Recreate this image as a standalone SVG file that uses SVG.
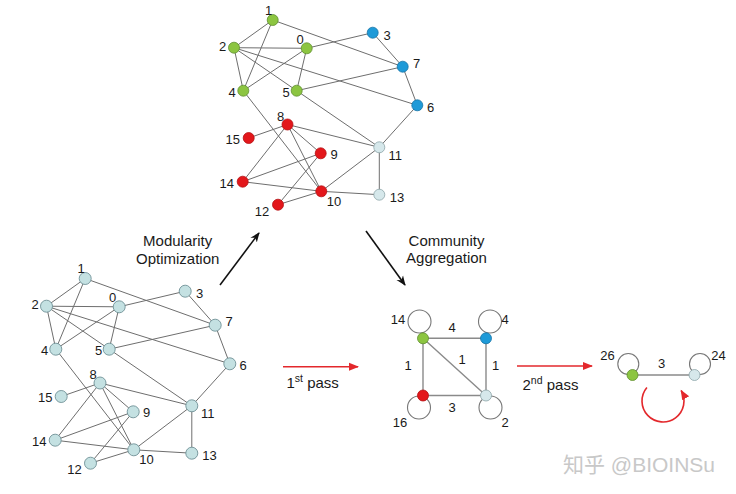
<svg xmlns="http://www.w3.org/2000/svg" width="736" height="494" viewBox="0 0 736 494">
<style>
text{font-family:"Liberation Sans",Arial,sans-serif;fill:#1a1a1a}
.lb{font-size:13px;text-anchor:middle}
.tt{font-size:15px;text-anchor:middle}
.ps{font-size:15px}
.e{stroke:#6e6e6e;stroke-width:1;fill:none}
.e2{stroke:#8a8a8a;stroke-width:1.4;fill:none}
.lp{stroke:#777;stroke-width:1.1;fill:none}
.g{fill:#8cc541;stroke:#5f8f2e;stroke-width:0.8}
.b{fill:#1e9ad8;stroke:#1774a6;stroke-width:0.8}
.r{fill:#e3171b;stroke:#b51013;stroke-width:0.8}
.w{fill:#d6e8eb;stroke:#8da4a8;stroke-width:0.8}
.c{fill:#c4e1e2;stroke:#6f9196;stroke-width:0.9}
.ra{stroke:#e3282c;stroke-width:1.6;fill:none}
.ka{stroke:#111;stroke-width:1.6;fill:none}
.wm{font-size:21px;fill:#c8c8c8;font-family:"Liberation Sans","Noto Sans CJK SC",sans-serif}
</style>
<defs>
<marker id="mr" markerUnits="userSpaceOnUse" markerWidth="12" markerHeight="10" refX="9" refY="5" orient="auto"><path d="M0,1 L10,5 L0,9 z" fill="#e3282c"/></marker>
<marker id="mk" markerUnits="userSpaceOnUse" markerWidth="12" markerHeight="10" refX="9" refY="5" orient="auto"><path d="M0,1 L10,5 L0,9 L3,5 z" fill="#111"/></marker>
</defs>
<rect width="736" height="494" fill="#fff"/>

<g id="connectors">
<!-- top graph -->
<path class="e" d="M272.7,20L234,47.7M272.7,20L243.3,90.7M272.7,20L402.7,66.7M234,47.7L306.7,48.3M234,47.7L243.3,90.7M234,47.7L296.7,90.7M234,47.7L417.3,105.3M306.7,48.3L372.7,32.7M306.7,48.3L243.3,90.7M306.7,48.3L296.7,90.7M372.7,32.7L402.7,66.7M402.7,66.7L296.7,90.7M402.7,66.7L417.3,105.3M243.3,90.7L321.3,191.3M296.7,90.7L379.3,147.3M417.3,105.3L379.3,147.3M287.5,124.5L248.7,138M287.5,124.5L379.3,147.3M287.5,124.5L242.7,181.7M287.5,124.5L320.7,153.3M287.5,124.5L321.3,191.3M320.7,153.3L242.7,181.7M320.7,153.3L278,204.7M242.7,181.7L321.3,191.3M321.3,191.3L278,204.7M321.3,191.3L379.3,147.3M321.3,191.3L379.3,194.7M379.3,147.3L379.3,194.7"/>
<!-- bottom-left graph -->
<path class="e" d="M85.2,278.5L46.5,306.2M85.2,278.5L55.8,349.2M85.2,278.5L215.2,325.2M46.5,306.2L119.2,306.8M46.5,306.2L55.8,349.2M46.5,306.2L109.2,349.2M46.5,306.2L229.8,363.8M119.2,306.8L185.2,291.2M119.2,306.8L55.8,349.2M119.2,306.8L109.2,349.2M185.2,291.2L215.2,325.2M215.2,325.2L109.2,349.2M215.2,325.2L229.8,363.8M55.8,349.2L133.8,449.8M109.2,349.2L191.8,405.8M229.8,363.8L191.8,405.8M100,383L61.2,396.5M100,383L191.8,405.8M100,383L55.2,440.2M100,383L133.2,411.8M100,383L133.8,449.8M133.2,411.8L55.2,440.2M133.2,411.8L90.5,463.2M55.2,440.2L133.8,449.8M133.8,449.8L90.5,463.2M133.8,449.8L191.8,405.8M133.8,449.8L191.8,453.2M191.8,405.8L191.8,453.2"/>
<!-- middle graph -->
<path class="e2" d="M423,338.3L486,338.3M423,338.3L423,395.5M423,338.3L486,395.5M486,338.3L486,395.5M423,395.5L486,395.5"/>
<circle class="lp" cx="419.5" cy="321.5" r="11.5"/>
<circle class="lp" cx="490" cy="321.5" r="11.5"/>
<circle class="lp" cx="419" cy="407.5" r="11.5"/>
<circle class="lp" cx="490.5" cy="407.5" r="11.5"/>
<!-- right graph -->
<path class="e2" d="M632.5,375L694.5,375"/>
<circle class="lp" cx="628.3" cy="364" r="10.5"/>
<circle class="lp" cx="700" cy="364" r="10.5"/>
<!-- process arrows -->
<path class="ka" d="M220,285L259,233" marker-end="url(#mk)"/>
<path class="ka" d="M366,231L405,285" marker-end="url(#mk)"/>
<path class="ra" d="M283,366.7L358,366.7" marker-end="url(#mr)"/>
<path class="ra" d="M517,366L592,366" marker-end="url(#mr)"/>
<path class="ra" d="M646.9,387.5A21,21 0 1,0 681.2,390.5" marker-end="url(#mr)"/>
</g>

<!-- top graph nodes -->
<g id="t0"><circle class="g" cx="306.7" cy="48.3" r="5.5"/><text class="lb" x="300" y="43.5">0</text></g>
<g id="t1"><circle class="g" cx="272.7" cy="20" r="5.5"/><text class="lb" x="268.7" y="14.5">1</text></g>
<g id="t2"><circle class="g" cx="234" cy="47.7" r="5.5"/><text class="lb" x="222.7" y="50.5">2</text></g>
<g id="t3"><circle class="b" cx="372.7" cy="32.7" r="5.5"/><text class="lb" x="387" y="39.5">3</text></g>
<g id="t4"><circle class="g" cx="243.3" cy="90.7" r="5.5"/><text class="lb" x="232" y="96.5">4</text></g>
<g id="t5"><circle class="g" cx="296.7" cy="90.7" r="5.5"/><text class="lb" x="286" y="96.5">5</text></g>
<g id="t6"><circle class="b" cx="417.3" cy="105.3" r="5.5"/><text class="lb" x="430.7" y="111.5">6</text></g>
<g id="t7"><circle class="b" cx="402.7" cy="66.7" r="5.5"/><text class="lb" x="416.7" y="67.5">7</text></g>
<g id="t8"><circle class="r" cx="287.5" cy="124.5" r="5.5"/><text class="lb" x="280.7" y="120.5">8</text></g>
<g id="t9"><circle class="r" cx="320.7" cy="153.3" r="5.5"/><text class="lb" x="334" y="158.5">9</text></g>
<g id="t10"><circle class="r" cx="321.3" cy="191.3" r="5.5"/><text class="lb" x="334" y="205.5">10</text></g>
<g id="t11"><circle class="w" cx="379.3" cy="147.3" r="5.5"/><text class="lb" x="395.3" y="159.5">11</text></g>
<g id="t12"><circle class="r" cx="278" cy="204.7" r="5.5"/><text class="lb" x="262" y="215.5">12</text></g>
<g id="t13"><circle class="w" cx="379.3" cy="194.7" r="5.5"/><text class="lb" x="397" y="201.5">13</text></g>
<g id="t14"><circle class="r" cx="242.7" cy="181.7" r="5.5"/><text class="lb" x="226.7" y="187.5">14</text></g>
<g id="t15"><circle class="r" cx="248.7" cy="138" r="5.5"/><text class="lb" x="232.7" y="143.5">15</text></g>

<!-- bottom-left graph nodes -->
<g id="b0"><circle class="c" cx="119.2" cy="306.8" r="6"/><text class="lb" x="112.5" y="302">0</text></g>
<g id="b1"><circle class="c" cx="85.2" cy="278.5" r="6"/><text class="lb" x="81.2" y="273">1</text></g>
<g id="b2"><circle class="c" cx="46.5" cy="306.2" r="6"/><text class="lb" x="35.2" y="309">2</text></g>
<g id="b3"><circle class="c" cx="185.2" cy="291.2" r="6"/><text class="lb" x="199.5" y="298">3</text></g>
<g id="b4"><circle class="c" cx="55.8" cy="349.2" r="6"/><text class="lb" x="44.5" y="355">4</text></g>
<g id="b5"><circle class="c" cx="109.2" cy="349.2" r="6"/><text class="lb" x="98.5" y="355">5</text></g>
<g id="b6"><circle class="c" cx="229.8" cy="363.8" r="6"/><text class="lb" x="243.2" y="370">6</text></g>
<g id="b7"><circle class="c" cx="215.2" cy="325.2" r="6"/><text class="lb" x="229.2" y="326">7</text></g>
<g id="b8"><circle class="c" cx="100" cy="383" r="6"/><text class="lb" x="93.2" y="379">8</text></g>
<g id="b9"><circle class="c" cx="133.2" cy="411.8" r="6"/><text class="lb" x="146.5" y="417">9</text></g>
<g id="b10"><circle class="c" cx="133.8" cy="449.8" r="6"/><text class="lb" x="146.5" y="464">10</text></g>
<g id="b11"><circle class="c" cx="191.8" cy="405.8" r="6"/><text class="lb" x="207.8" y="418">11</text></g>
<g id="b12"><circle class="c" cx="90.5" cy="463.2" r="6"/><text class="lb" x="74.5" y="474">12</text></g>
<g id="b13"><circle class="c" cx="191.8" cy="453.2" r="6"/><text class="lb" x="209.5" y="460">13</text></g>
<g id="b14"><circle class="c" cx="55.2" cy="440.2" r="6"/><text class="lb" x="39.2" y="446">14</text></g>
<g id="b15"><circle class="c" cx="61.2" cy="396.5" r="6"/><text class="lb" x="45.2" y="402">15</text></g>

<!-- middle aggregated graph -->
<g id="m14"><circle class="g" cx="423" cy="338.3" r="5.5"/><text class="lb" x="398" y="323.5">14</text></g>
<g id="m4"><circle class="b" cx="486" cy="338.3" r="5.5"/><text class="lb" x="505" y="323.5">4</text></g>
<g id="m16"><circle class="r" cx="423" cy="395.5" r="5.5"/><text class="lb" x="400" y="427">16</text></g>
<g id="m2"><circle class="w" cx="486" cy="395.5" r="5.5"/><text class="lb" x="505" y="427">2</text></g>
<g id="mw">
<text class="lb" x="452" y="332">4</text>
<text class="lb" x="408" y="369.5">1</text>
<text class="lb" x="462" y="363.5">1</text>
<text class="lb" x="495.5" y="369.5">1</text>
<text class="lb" x="452" y="411.5">3</text>
</g>

<!-- right graph -->
<g id="r26"><circle class="g" cx="632.5" cy="375" r="5.5"/><text class="lb" x="607.5" y="359.5">26</text></g>
<g id="r24"><circle class="w" cx="694.5" cy="375" r="5.5"/><text class="lb" x="718.5" y="359.5">24</text></g>
<text class="lb" x="661.7" y="368">3</text>

<!-- captions -->
<g id="cap1"><text class="tt" x="177.7" y="245.7">Modularity</text><text class="tt" x="177.7" y="263.5">Optimization</text></g>
<g id="cap2"><text class="tt" x="446.5" y="245.5">Community</text><text class="tt" x="446.5" y="263">Aggregation</text></g>
<text class="ps" x="286.5" y="387.5">1<tspan font-size="10.5" dy="-6">st</tspan><tspan dy="6"> pass</tspan></text>
<text class="ps" x="522.5" y="390">2<tspan font-size="10.5" dy="-6">nd</tspan><tspan dy="6"> pass</tspan></text>

<text class="wm" x="563" y="471.5">知乎 @BIOINSu</text>
</svg>
